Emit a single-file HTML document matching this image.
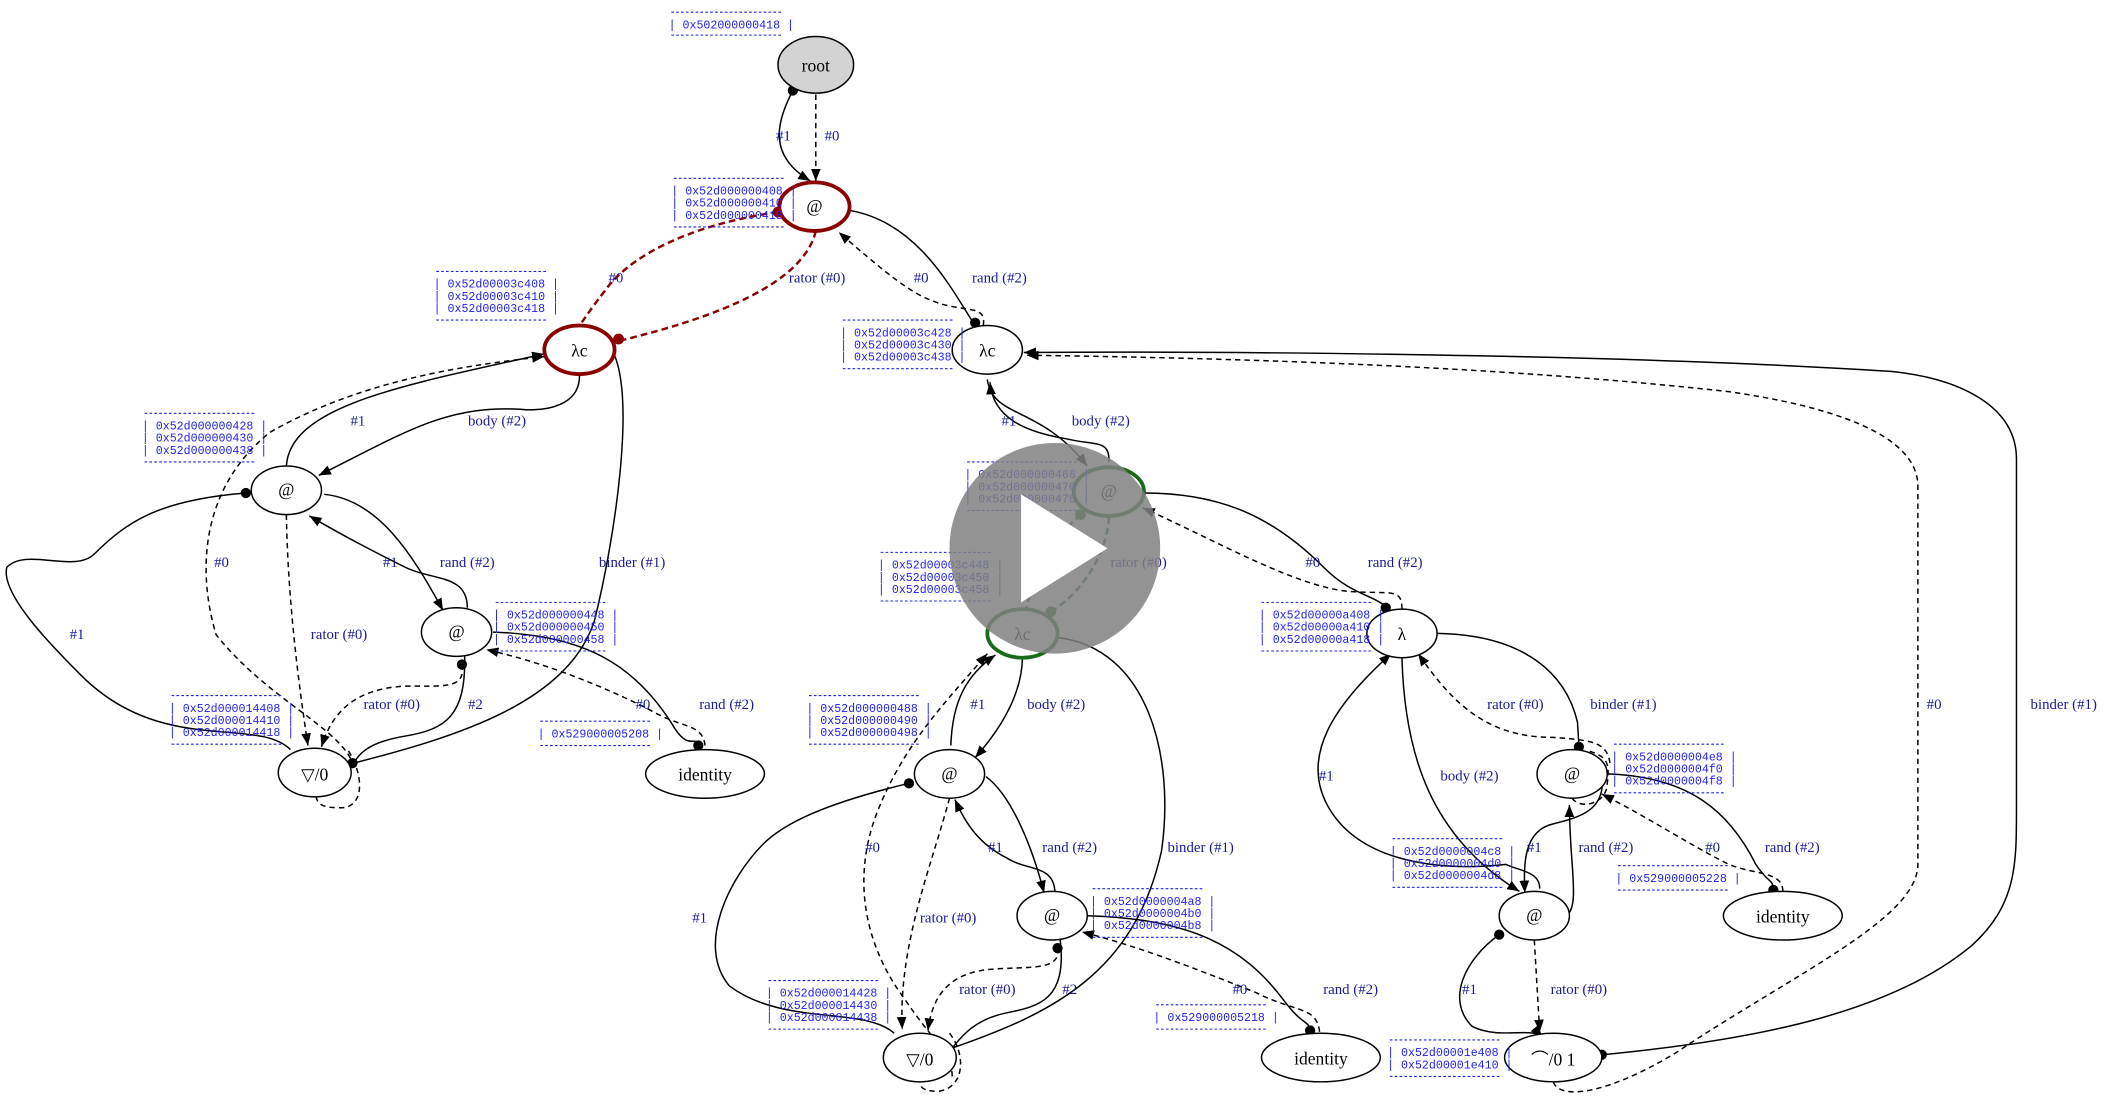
<!DOCTYPE html>
<html><head><meta charset="utf-8"><style>
html,body{margin:0;padding:0;background:#fff;}
svg{display:block;}
.n{fill:#fff;stroke:#000;stroke-width:1.1;}
.t{font-family:"Liberation Serif",serif;font-size:13px;text-anchor:middle;fill:#000;}
.l{font-family:"Liberation Serif",serif;font-size:11px;fill:#1a1a9a;text-anchor:middle;}
.b{font-family:"Liberation Mono",monospace;font-size:8.6px;fill:#2222ee;}
.bl{stroke:#2222ee;stroke-width:0.8;stroke-dasharray:2,1.6;fill:none;}
.e{fill:none;stroke:#000;stroke-width:1.1;}
.d{fill:none;stroke:#000;stroke-width:1.1;stroke-dasharray:4,3;}
.r{fill:none;stroke:#8b0000;stroke-width:1.8;stroke-dasharray:5,3;}
.g{fill:none;stroke:#1a6a1a;stroke-width:1.8;stroke-dasharray:5,3;}
</style></head><body>
<svg width="2107" height="1096" viewBox="0 0 1560 811.5" xmlns="http://www.w3.org/2000/svg">
<defs>
<marker id="a" viewBox="0 0 10 10" refX="10" refY="5" markerWidth="9" markerHeight="9" markerUnits="userSpaceOnUse" orient="auto"><path d="M0,1 L10,5 L0,9 z" fill="#000"/></marker>
</defs>

<!-- EDGES -->
<!-- root -> @1 -->
<path class="e" d="M587,67 C575,90 568,115 600,134" marker-end="url(#a)"/>
<circle cx="587" cy="67" r="3.8"/>
<path class="d" d="M604,70 L604,134" marker-end="url(#a)"/>
<text class="l" x="580" y="104">#1</text><text class="l" x="616" y="104">#0</text>

<!-- @1 red edges -->
<path class="r" d="M576,157 C520,165 470,185 448,215 C435,232 430,240 429,241"/>
<circle cx="576" cy="157" r="4" fill="#8b0000"/>
<path class="r" d="M604,171 C595,210 530,235 460,252"/>
<circle cx="458" cy="251" r="4" fill="#8b0000"/>
<text class="l" x="456" y="209">#0</text><text class="l" x="605" y="209">rator (#0)</text>

<!-- @1 <-> λc right -->
<path class="e" d="M630,156 C680,165 705,215 720,238"/>
<circle cx="722" cy="239" r="3.8"/>
<path class="d" d="M728,241 C730,228 720,230 705,227 C680,222 665,210 621,172" marker-end="url(#a)"/>
<text class="l" x="682" y="209">#0</text><text class="l" x="740" y="209">rand (#2)</text>

<!-- λc red -->
<path class="e" d="M212,345 C215,300 300,285 403,262" marker-end="url(#a)"/>
<path class="d" d="M262,568 C255,540 200,520 160,470 C145,420 150,360 200,320 C270,280 350,270 403,264" marker-end="url(#a)"/>
<path class="e" d="M429,277 C430,300 405,305 385,303 C330,300 300,320 236,352" marker-end="url(#a)"/>
<path class="e" d="M455,263 C470,300 455,400 440,460 C420,520 340,545 262,565"/>
<circle cx="261" cy="565" r="3.8"/>
<text class="l" x="265" y="315">#1</text><text class="l" x="368" y="315">body (#2)</text>
<text class="l" x="164" y="420">#0</text><text class="l" x="468" y="420">binder (#1)</text>

<!-- @ left loops -->
<path class="e" d="M182,365 C120,370 95,385 70,410 C55,425 20,405 5,420 C0,440 40,480 60,500 C120,560 190,530 215,555"/>
<circle cx="182" cy="365" r="3.8"/>
<path class="d" d="M212,381 C213,440 220,500 228,552" marker-end="url(#a)"/>
<path class="e" d="M240,366 C280,370 305,410 328,452" marker-end="url(#a)"/>
<path class="e" d="M346,450 C346,425 320,430 300,420 C280,410 260,400 229,382" marker-end="url(#a)"/>
<text class="l" x="57" y="473">#1</text><text class="l" x="251" y="473">rator (#0)</text>
<text class="l" x="289" y="420">#1</text><text class="l" x="346" y="420">rand (#2)</text>

<!-- @(338) -->
<path class="d" d="M342,492 C345,510 330,508 300,508 C260,510 245,530 238,553" marker-end="url(#a)"/>
<circle cx="342" cy="492" r="3.8"/>
<path class="e" d="M344,486 C345,530 330,540 300,545 C270,550 265,560 262,565"/>
<path class="e" d="M365,468 C430,470 470,490 500,540 C510,555 515,545 517,551"/>
<circle cx="517" cy="552" r="3.8"/>
<path class="d" d="M522,552 C520,535 505,540 480,525 C440,505 400,490 360,481" marker-end="url(#a)"/>
<text class="l" x="290" y="525">rator (#0)</text><text class="l" x="352" y="525">#2</text>
<text class="l" x="476" y="525">#0</text><text class="l" x="538" y="525">rand (#2)</text>
<!-- ▽/0 self loop -->
<path class="d" d="M258,556 C270,575 270,600 250,598 C238,598 234,595 234,588"/>

<!-- λc right -->
<path class="e" d="M821,342 C822,325 810,330 790,325 C760,320 735,310 733,283" marker-end="url(#a)"/>
<path class="e" d="M731,281 C735,310 770,300 805,345" marker-end="url(#a)"/>
<text class="l" x="747" y="315">#1</text><text class="l" x="815" y="315">body (#2)</text>
<path class="e" d="M1186,781 C1300,770 1400,750 1460,700 C1493,670 1493,640 1493,600 L1493,340 C1493,300 1450,280 1400,275 C1200,262 900,260 758,261" marker-end="url(#a)"/>
<circle cx="1186" cy="781" r="3.8"/>
<path class="d" d="M1150,801 C1155,815 1190,810 1240,780 C1330,720 1420,680 1420,640 L1420,360 C1420,320 1350,300 1280,290 C1100,270 900,265 760,263" marker-end="url(#a)"/>
<text class="l" x="1432" y="525">#0</text><text class="l" x="1528" y="525">binder (#1)</text>

<!-- @green -->
<path class="e" d="M847,365 C900,365 940,380 980,420 C1000,440 1015,440 1026,449"/>
<circle cx="1026" cy="450" r="3.8"/>
<path class="d" d="M1038,451 C1038,435 1030,440 1000,438 C960,435 900,400 846,376" marker-end="url(#a)"/>
<text class="l" x="972" y="420">#0</text><text class="l" x="1033" y="420">rand (#2)</text>
<path class="g" d="M821,383 C820,410 800,440 778,453"/>
<circle cx="778" cy="453" r="4" fill="#1a6a1a"/>
<path class="g" d="M800,381 C780,400 765,420 760,452"/>
<circle cx="800" cy="381" r="4" fill="#1a6a1a"/>
<text class="l" x="843" y="420">rator (#0)</text>

<!-- λc green -->
<path class="e" d="M704,552 C705,520 715,500 737,485" marker-end="url(#a)"/>
<path class="d" d="M705,797 C705,780 690,770 670,740 C640,700 630,650 650,600 C670,550 700,520 731,484" marker-end="url(#a)"/>
<path class="e" d="M757,486 C757,510 745,535 722,561" marker-end="url(#a)"/>
<path class="e" d="M783,472 C850,480 870,560 860,630 C840,720 780,750 705,776"/>
<circle cx="703" cy="777" r="3.8"/>
<text class="l" x="724" y="525">#1</text><text class="l" x="782" y="525">body (#2)</text>
<text class="l" x="646" y="631">#0</text><text class="l" x="889" y="631">binder (#1)</text>

<!-- @(703) -->
<path class="e" d="M673,580 C610,595 580,610 565,625 C540,650 515,700 540,730 C580,760 640,745 662,765"/>
<circle cx="673" cy="580" r="3.8"/>
<path class="d" d="M703,591 C690,640 665,700 668,762" marker-end="url(#a)"/>
<path class="e" d="M730,575 C750,590 765,630 773,661" marker-end="url(#a)"/>
<path class="e" d="M781,660 C780,640 760,645 745,635 C725,625 715,610 707,592" marker-end="url(#a)"/>
<text class="l" x="518" y="683">#1</text><text class="l" x="702" y="683">rator (#0)</text>
<text class="l" x="737" y="631">#1</text><text class="l" x="792" y="631">rand (#2)</text>

<!-- @(779) -->
<path class="d" d="M783,702 C786,720 760,715 730,718 C700,722 690,740 687,763" marker-end="url(#a)"/>
<circle cx="783" cy="702" r="3.8"/>
<path class="e" d="M785,696 C790,740 770,745 745,750 C720,755 710,770 705,776"/>
<path class="e" d="M805,678 C880,680 920,700 950,740 C965,760 968,755 970,762"/>
<circle cx="970" cy="763" r="3.8"/>
<path class="d" d="M977,764 C975,745 960,750 930,735 C880,715 840,700 801,690" marker-end="url(#a)"/>
<text class="l" x="731" y="736">rator (#0)</text><text class="l" x="792" y="736">#2</text>
<text class="l" x="918" y="736">#0</text><text class="l" x="1000" y="736">rand (#2)</text>
<path class="d" d="M703,765 C715,780 715,805 695,808 C683,808 681,805 681,800"/>

<!-- λ -->
<path class="e" d="M1064,469 C1130,470 1160,500 1168,535 L1169,552"/>
<circle cx="1169" cy="553" r="3.8"/>
<path class="d" d="M1192,565 C1190,550 1180,548 1150,546 C1100,546 1075,520 1050,484" marker-end="url(#a)"/>
<path class="e" d="M1038,487 C1040,560 1060,620 1125,660" marker-end="url(#a)"/>
<path class="e" d="M1140,658 C1140,645 1125,645 1115,640 C1070,645 1010,640 985,600 C960,560 990,520 1030,484" marker-end="url(#a)"/>
<text class="l" x="1122" y="525">rator (#0)</text><text class="l" x="1202" y="525">binder (#1)</text>
<text class="l" x="982" y="578">#1</text><text class="l" x="1088" y="578">body (#2)</text>

<!-- @(1164) / @(1136) -->
<path class="e" d="M1160,678 C1170,670 1162,640 1162,596" marker-end="url(#a)"/>
<path class="e" d="M1186,572 C1190,600 1170,605 1150,610 C1128,615 1128,640 1129,661" marker-end="url(#a)"/>
<path class="d" d="M1164,591 C1170,600 1190,595 1190,580 C1192,565 1190,560 1176,556"/>
<path class="e" d="M1190,573 C1250,575 1280,600 1300,640 C1310,655 1312,650 1313,658"/>
<circle cx="1313" cy="659" r="3.8"/>
<path class="d" d="M1320,660 C1320,645 1300,648 1280,640 C1250,625 1220,605 1186,588" marker-end="url(#a)"/>
<text class="l" x="1136" y="631">#1</text><text class="l" x="1189" y="631">rand (#2)</text>
<text class="l" x="1268" y="631">#0</text><text class="l" x="1327" y="631">rand (#2)</text>
<path class="e" d="M1110,692 C1085,710 1070,740 1090,760 C1110,770 1135,760 1142,768" marker-end="url(#a)"/>
<circle cx="1110" cy="692" r="3.8"/>
<path class="d" d="M1136,696 L1140,764" marker-end="url(#a)"/>
<text class="l" x="1088" y="736">#1</text><text class="l" x="1169" y="736">rator (#0)</text>

<!-- NODES -->
<ellipse cx="604" cy="48" rx="28" ry="21" fill="#d3d3d3" stroke="#000" stroke-width="1.1"/><text class="t" x="604" y="53">root</text>
<ellipse cx="603" cy="153" rx="26" ry="18" fill="#fff" stroke="#8b0000" stroke-width="2.8"/><text class="t" x="603" y="157" font-size="12">@</text>
<ellipse cx="429" cy="259" rx="26" ry="18" fill="#fff" stroke="#8b0000" stroke-width="2.8"/><text class="t" x="429" y="264">λc</text>
<ellipse class="n" cx="731" cy="259" rx="26" ry="18"/><text class="t" x="731" y="264">λc</text>
<ellipse class="n" cx="212" cy="363" rx="26" ry="18"/><text class="t" x="212" y="367" font-size="12">@</text>
<ellipse cx="821" cy="364" rx="26" ry="18" fill="#fff" stroke="#1a6a1a" stroke-width="2.8"/><text class="t" x="821" y="368" font-size="12">@</text>
<ellipse class="n" cx="338" cy="468" rx="26" ry="18"/><text class="t" x="338" y="472" font-size="12">@</text>
<ellipse class="n" cx="1038" cy="469" rx="26" ry="18"/><text class="t" x="1038" y="474">λ</text>
<ellipse cx="757" cy="469" rx="26" ry="18" fill="#fff" stroke="#1a6a1a" stroke-width="2.8"/><text class="t" x="757" y="474">λc</text>
<ellipse class="n" cx="233" cy="572" rx="27" ry="18"/><text class="t" x="233" y="578" font-size="15">▽/0</text>
<ellipse class="n" cx="522" cy="573" rx="44" ry="18"/><text class="t" x="522" y="578" font-size="14">identity</text>
<ellipse class="n" cx="703" cy="573" rx="26" ry="18"/><text class="t" x="703" y="577" font-size="12">@</text>
<ellipse class="n" cx="1164" cy="573" rx="26" ry="18"/><text class="t" x="1164" y="577" font-size="12">@</text>
<ellipse class="n" cx="779" cy="678" rx="26" ry="18"/><text class="t" x="779" y="682" font-size="12">@</text>
<ellipse class="n" cx="1136" cy="678" rx="26" ry="18"/><text class="t" x="1136" y="682" font-size="12">@</text>
<ellipse class="n" cx="1320" cy="678" rx="44" ry="18"/><text class="t" x="1320" y="683" font-size="14">identity</text>
<ellipse class="n" cx="681" cy="783" rx="27" ry="18"/><text class="t" x="681" y="789" font-size="15">▽/0</text>
<ellipse class="n" cx="978" cy="783" rx="44" ry="18"/><text class="t" x="978" y="788" font-size="14">identity</text>
<ellipse class="n" cx="1150" cy="783" rx="36" ry="18"/><text class="t" x="1150" y="789" font-size="15">⌒/0 1</text>

<!-- ADDRESS BOXES -->
<g>
<line class="bl" x1="497" y1="9" x2="579" y2="9"/><line class="bl" x1="497" y1="26" x2="579" y2="26"/><text class="b" x="495" y="21">| 0x502000000418 |</text>

<line class="bl" x1="499" y1="132" x2="581" y2="132"/><line class="bl" x1="499" y1="168" x2="581" y2="168"/>
<text class="b" x="497" y="144">| 0x52d000000408 |</text><text class="b" x="497" y="153">| 0x52d000000410 |</text><text class="b" x="497" y="162">| 0x52d000000418 |</text>

<line class="bl" x1="323" y1="201" x2="405" y2="201"/><line class="bl" x1="323" y1="237" x2="405" y2="237"/>
<text class="b" x="321" y="213">| 0x52d00003c408 |</text><text class="b" x="321" y="222">| 0x52d00003c410 |</text><text class="b" x="321" y="231">| 0x52d00003c418 |</text>

<line class="bl" x1="107" y1="306" x2="189" y2="306"/><line class="bl" x1="107" y1="342" x2="189" y2="342"/>
<text class="b" x="105" y="318">| 0x52d000000428 |</text><text class="b" x="105" y="327">| 0x52d000000430 |</text><text class="b" x="105" y="336">| 0x52d000000438 |</text>

<line class="bl" x1="624" y1="237" x2="706" y2="237"/><line class="bl" x1="624" y1="273" x2="706" y2="273"/>
<text class="b" x="622" y="249">| 0x52d00003c428 |</text><text class="b" x="622" y="258">| 0x52d00003c430 |</text><text class="b" x="622" y="267">| 0x52d00003c438 |</text>

<line class="bl" x1="716" y1="342" x2="798" y2="342"/><line class="bl" x1="716" y1="378" x2="798" y2="378"/>
<text class="b" x="714" y="354">| 0x52d000000468 |</text><text class="b" x="714" y="363">| 0x52d000000470 |</text><text class="b" x="714" y="372">| 0x52d000000478 |</text>

<line class="bl" x1="652" y1="409" x2="734" y2="409"/><line class="bl" x1="652" y1="445" x2="734" y2="445"/>
<text class="b" x="650" y="421">| 0x52d00003c448 |</text><text class="b" x="650" y="430">| 0x52d00003c450 |</text><text class="b" x="650" y="439">| 0x52d00003c458 |</text>

<line class="bl" x1="367" y1="446" x2="449" y2="446"/><line class="bl" x1="367" y1="482" x2="449" y2="482"/>
<text class="b" x="365" y="458">| 0x52d000000448 |</text><text class="b" x="365" y="467">| 0x52d000000450 |</text><text class="b" x="365" y="476">| 0x52d000000458 |</text>

<line class="bl" x1="934" y1="446" x2="1016" y2="446"/><line class="bl" x1="934" y1="482" x2="1016" y2="482"/>
<text class="b" x="932" y="458">| 0x52d00000a408 |</text><text class="b" x="932" y="467">| 0x52d00000a410 |</text><text class="b" x="932" y="476">| 0x52d00000a418 |</text>

<line class="bl" x1="127" y1="515" x2="209" y2="515"/><line class="bl" x1="127" y1="551" x2="209" y2="551"/>
<text class="b" x="125" y="527">| 0x52d000014408 |</text><text class="b" x="125" y="536">| 0x52d000014410 |</text><text class="b" x="125" y="545">| 0x52d000014418 |</text>

<line class="bl" x1="400" y1="534" x2="482" y2="534"/><line class="bl" x1="400" y1="552" x2="482" y2="552"/><text class="b" x="398" y="546">| 0x529000005208 |</text>

<line class="bl" x1="599" y1="515" x2="681" y2="515"/><line class="bl" x1="599" y1="551" x2="681" y2="551"/>
<text class="b" x="597" y="527">| 0x52d000000488 |</text><text class="b" x="597" y="536">| 0x52d000000490 |</text><text class="b" x="597" y="545">| 0x52d000000498 |</text>

<line class="bl" x1="1195" y1="551" x2="1277" y2="551"/><line class="bl" x1="1195" y1="587" x2="1277" y2="587"/>
<text class="b" x="1193" y="563">| 0x52d0000004e8 |</text><text class="b" x="1193" y="572">| 0x52d0000004f0 |</text><text class="b" x="1193" y="581">| 0x52d0000004f8 |</text>

<line class="bl" x1="1031" y1="621" x2="1113" y2="621"/><line class="bl" x1="1031" y1="657" x2="1113" y2="657"/>
<text class="b" x="1029" y="633">| 0x52d0000004c8 |</text><text class="b" x="1029" y="642">| 0x52d0000004d0 |</text><text class="b" x="1029" y="651">| 0x52d0000004d8 |</text>

<line class="bl" x1="1198" y1="641" x2="1280" y2="641"/><line class="bl" x1="1198" y1="659" x2="1280" y2="659"/><text class="b" x="1196" y="653">| 0x529000005228 |</text>

<line class="bl" x1="809" y1="658" x2="891" y2="658"/><line class="bl" x1="809" y1="694" x2="891" y2="694"/>
<text class="b" x="807" y="670">| 0x52d0000004a8 |</text><text class="b" x="807" y="679">| 0x52d0000004b0 |</text><text class="b" x="807" y="688">| 0x52d0000004b8 |</text>

<line class="bl" x1="569" y1="726" x2="651" y2="726"/><line class="bl" x1="569" y1="762" x2="651" y2="762"/>
<text class="b" x="567" y="738">| 0x52d000014428 |</text><text class="b" x="567" y="747">| 0x52d000014430 |</text><text class="b" x="567" y="756">| 0x52d000014438 |</text>

<line class="bl" x1="856" y1="744" x2="938" y2="744"/><line class="bl" x1="856" y1="762" x2="938" y2="762"/><text class="b" x="854" y="756">| 0x529000005218 |</text>

<line class="bl" x1="1029" y1="770" x2="1111" y2="770"/><line class="bl" x1="1029" y1="797" x2="1111" y2="797"/>
<text class="b" x="1027" y="782">| 0x52d00001e408 |</text><text class="b" x="1027" y="791">| 0x52d00001e410 |</text>
</g>

<!-- play overlay -->
<circle cx="781" cy="406" r="78" fill="#808080" fill-opacity="0.85"/>
<path d="M756,366 L756,446 L820,406 z" fill="#fff"/>
</svg>
</body></html>
